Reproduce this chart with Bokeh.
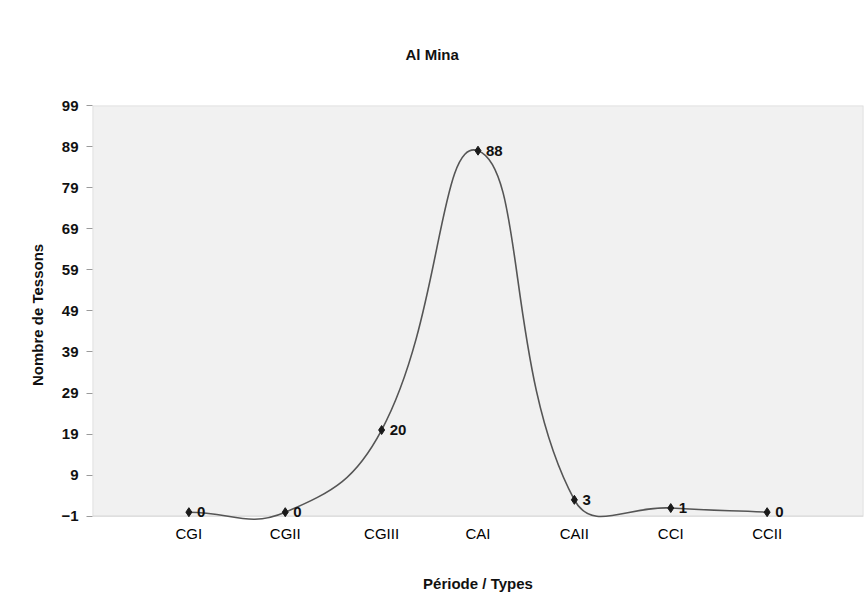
import math
from bokeh.plotting import figure
from bokeh.models import Range1d, FixedTicker, ColumnDataSource, BoxAnnotation
from bokeh.embed import file_html
from bokeh.resources import INLINE

categories = ["CGI", "CGII", "CGIII", "CAI", "CAII", "CCI", "CCII"]
values = [0, 0, 20, 88, 3, 1, 0]
y_ticks = [-1, 9, 19, 29, 39, 49, 59, 69, 79, 89, 99]

xs = list(range(1, len(categories) + 1))

# Excel-like smoothed line: cubic Bezier segments whose control points are
# weighted by segment lengths measured in screen pixels
SX, SY = 96.4, 4.12   # approx. pixels per data unit (x, y)
K = 0.45


def dist(a, b):
    return math.hypot((xs[a] - xs[b]) * SX, (values[a] - values[b]) * SY)


x0, y0, x1, y1, cx0, cy0, cx1, cy1 = [], [], [], [], [], [], [], []
n = len(xs)
for i in range(n - 1):
    pp = i - 1 if i > 0 else i
    pn = i + 2 if i + 2 < n else i + 1
    d_prev, d_seg, d_next = dist(pp, i), dist(i, i + 1), dist(i + 1, pn)
    w0 = K * d_seg / (d_prev + d_seg)
    w1 = K * d_seg / (d_seg + d_next)
    x0.append(xs[i]); y0.append(values[i])
    x1.append(xs[i + 1]); y1.append(values[i + 1])
    cx0.append(xs[i] + (xs[i + 1] - xs[pp]) * w0)
    cy0.append(values[i] + (values[i + 1] - values[pp]) * w0)
    cx1.append(xs[i + 1] - (xs[pn] - xs[i]) * w1)
    cy1.append(values[i + 1] - (values[pn] - values[i]) * w1)

FONT = "Liberation Sans"
GREY = "#9a9a9a"

p = figure(width=865, height=607, output_backend="svg", toolbar_location=None,
           x_range=Range1d(0, len(categories) + 1), y_range=Range1d(-3, 99),
           min_border_left=92, min_border_right=2, min_border_bottom=83,
           min_border_top=104)

p.title.text = "Al Mina"
p.title.align = "left"
p.title.offset = 313
p.title.text_font = FONT
p.title.text_font_size = "15px"
p.title.text_font_style = "bold"
p.title.text_color = "#111111"
p.title.standoff = 86

p.background_fill_color = "white"
p.border_fill_color = "white"
p.outline_line_color = None
p.xgrid.visible = False
p.ygrid.visible = False

p.add_layout(BoxAnnotation(left=0, right=len(categories) + 1, bottom=-1, top=99,
                           fill_color="#f1f1f1", fill_alpha=1.0,
                           line_color=GREY, line_width=1.5, level="underlay"))

p.bezier(x0=x0, y0=y0, x1=x1, y1=y1, cx0=cx0, cy0=cy0, cx1=cx1, cy1=cy1,
         line_color="#555555", line_width=1.6)

src = ColumnDataSource(dict(x=xs, y=values, lab=[str(v) for v in values]))
p.scatter("x", "y", source=src, marker="diamond", size=9,
          fill_color="#1a1a1a", line_color="#1a1a1a")
p.text("x", "y", text="lab", source=src, x_offset=8, text_baseline="middle",
       text_align="left", text_font_size="15px", text_font_style="bold",
       text_color="#111111", text_font={"value": FONT})

# axes
p.xaxis.ticker = FixedTicker(ticks=xs)
p.xaxis.major_label_overrides = {x: c for x, c in zip(xs, categories)}
p.xaxis.axis_label = "Période / Types"
p.xaxis.axis_label_text_font = FONT
p.xaxis.axis_label_text_font_size = "15px"
p.xaxis.axis_label_text_font_style = "bold"
p.xaxis.axis_label_text_color = "#111111"
p.xaxis.axis_label_standoff = 30
p.xaxis.major_label_text_font = FONT
p.xaxis.major_label_text_font_size = "15px"
p.xaxis.major_label_text_font_style = "normal"
p.xaxis.major_label_text_color = "#000000"
p.xaxis.major_label_standoff = 0
p.xaxis.major_tick_out = 0
p.xaxis.major_tick_in = 0
p.xaxis.minor_tick_line_color = None
p.xaxis.axis_line_color = None

p.yaxis.ticker = FixedTicker(ticks=y_ticks)
p.yaxis.axis_label = "Nombre de Tessons"
p.yaxis.axis_label_text_font = FONT
p.yaxis.axis_label_text_font_size = "15px"
p.yaxis.axis_label_text_font_style = "bold"
p.yaxis.axis_label_text_color = "#111111"
p.yaxis.axis_label_standoff = 12
p.yaxis.major_label_text_font = FONT
p.yaxis.major_label_text_font_size = "15px"
p.yaxis.major_label_text_font_style = "bold"
p.yaxis.major_label_text_color = "#111111"
p.yaxis.major_label_standoff = 8
p.yaxis.major_tick_out = 6
p.yaxis.major_tick_in = 0
p.yaxis.major_tick_line_color = GREY
p.yaxis.minor_tick_line_color = None
p.yaxis.axis_line_color = None

open("out.html", "w").write(file_html(p, INLINE))
